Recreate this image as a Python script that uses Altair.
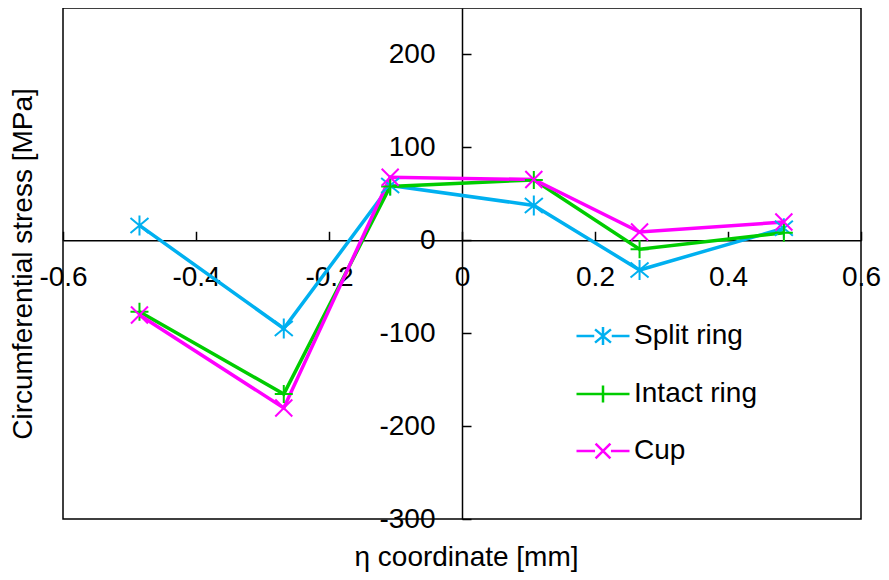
import altair as alt
import pandas as pd

# ---- data ----
eta = [-0.485, -0.268, -0.108, 0.108, 0.267, 0.484]
split_ring = [16, -95, 59, 37.5, -32, 13]
intact_ring = [-77, -165.5, 58, 65, -9.6, 8]
cup = [-80.4, -180.5, 67.8, 65.4, 8.9, 19.6]

series_names = ["Split ring", "Intact ring", "Cup"]
series_colors = ["#00B0F0", "#00CC00", "#FF00FF"]
x_ticks = [-0.6, -0.4, -0.2, 0, 0.2, 0.4, 0.6]
y_ticks = [-300, -200, -100, 0, 100, 200]
x_domain = [-0.6, 0.6]
y_domain = [-300, 250]

# marker shapes (unit square -1..1)
marker_paths = [
    "M-0.9,-0.75L0.9,0.75M-0.9,0.75L0.9,-0.75M0,-1V1",
    "M-0.9,0H0.9M0,-0.9V0.9",
    "M-0.85,-0.85L0.85,0.85M-0.85,0.85L0.85,-0.85",
]
legend_paths = [
    "M-1,0H-0.33M0.33,0H1M-0.3,-0.25L0.3,0.25M-0.3,0.25L0.3,-0.25M0,-0.34V0.34",
    "M-1,0H1M0,-0.32V0.32",
    "M-1,0H-0.3M0.3,0H1M-0.28,-0.28L0.28,0.28M-0.28,0.28L0.28,-0.28",
]

rows = []
for name, vals in zip(series_names, [split_ring, intact_ring, cup]):
    for e, v in zip(eta, vals):
        rows.append({"series": name, "eta": e, "stress": v})
df = pd.DataFrame(rows)

PAD_L, PAD_R, PAD_B = 55, 20, 55
W, H = 798, 511
x0 = W * (0 - x_domain[0]) / (x_domain[1] - x_domain[0])
y0 = H * (y_domain[1] - 0) / (y_domain[1] - y_domain[0])
plot_left = 8 + PAD_L

FONT = "Liberation Sans"

xscale = alt.Scale(domain=x_domain, nice=False, zero=False)
yscale = alt.Scale(domain=y_domain, nice=False, zero=False)
cscale = alt.Scale(domain=series_names, range=series_colors)

x_axis = alt.Axis(
    orient="top", offset=-y0, values=x_ticks,
    labelExpr="toString(datum.value)",
    labelPadding=-54, labelAlign="center", labelBaseline="alphabetic",
    labelFlush=False, labelOverlap=False,
    title="η coordinate [mm]", titleX=466 - plot_left, titleY=557 - y0,
    titleAlign="center", titleBaseline="alphabetic", titleAngle=0,
)
y_axis = alt.Axis(
    orient="right", offset=-x0, values=y_ticks,
    labelExpr="toString(datum.value)",
    labelPadding=-36, labelAlign="right", labelBaseline="middle",
    labelFlush=False, labelOverlap=False,
    title="Circumferential stress [MPa]", titleX=(23.5 - plot_left) - x0, titleY=H / 2,
    titleAngle=270, titleAlign="center", titleBaseline="middle",
)
leg = alt.Legend(
    title=None, orient="none", legendX=575 - plot_left, legendY=300,
    labelFont=FONT, labelFontSize=28, labelColor="black", labelOffset=3,
    symbolSize=2809, symbolStrokeWidth=2.5, rowPadding=15, padding=0,
)

base = alt.Chart(df).encode(
    x=alt.X("eta:Q", scale=xscale, axis=x_axis),
    y=alt.Y("stress:Q", scale=yscale, axis=y_axis),
    color=alt.Color("series:N", scale=cscale, legend=leg),
)

legend_layer = base.transform_filter("false").mark_point(filled=False, opacity=1).encode(
    shape=alt.Shape("series:N", scale=alt.Scale(domain=series_names, range=legend_paths), legend=leg),
)

lines = base.mark_line(strokeWidth=3.5).encode(detail="series:N")

point_layers = []
for name, path in zip(series_names, marker_paths):
    point_layers.append(
        base.transform_filter(alt.datum.series == name)
        .mark_point(shape=path, filled=False, size=400, strokeWidth=2, opacity=1)
    )

chart = (
    alt.layer(legend_layer, lines, *point_layers)
    .properties(
        width=W, height=H,
        autosize=alt.AutoSizeParams(type="none"),
        padding={"left": PAD_L, "top": 0, "right": PAD_R, "bottom": PAD_B},
    )
    .configure_view(stroke="black", strokeWidth=1.5)
    .configure_axis(
        labelFont=FONT, labelFontSize=28, labelColor="black",
        titleFont=FONT, titleFontSize=28, titleFontWeight="normal", titleColor="black",
        domainColor="black", domainWidth=1.5,
        tickColor="black", tickWidth=1.5, tickSize=9, grid=False,
    )
)

chart.save("out.html", embed_options={"renderer": "svg", "actions": False})
